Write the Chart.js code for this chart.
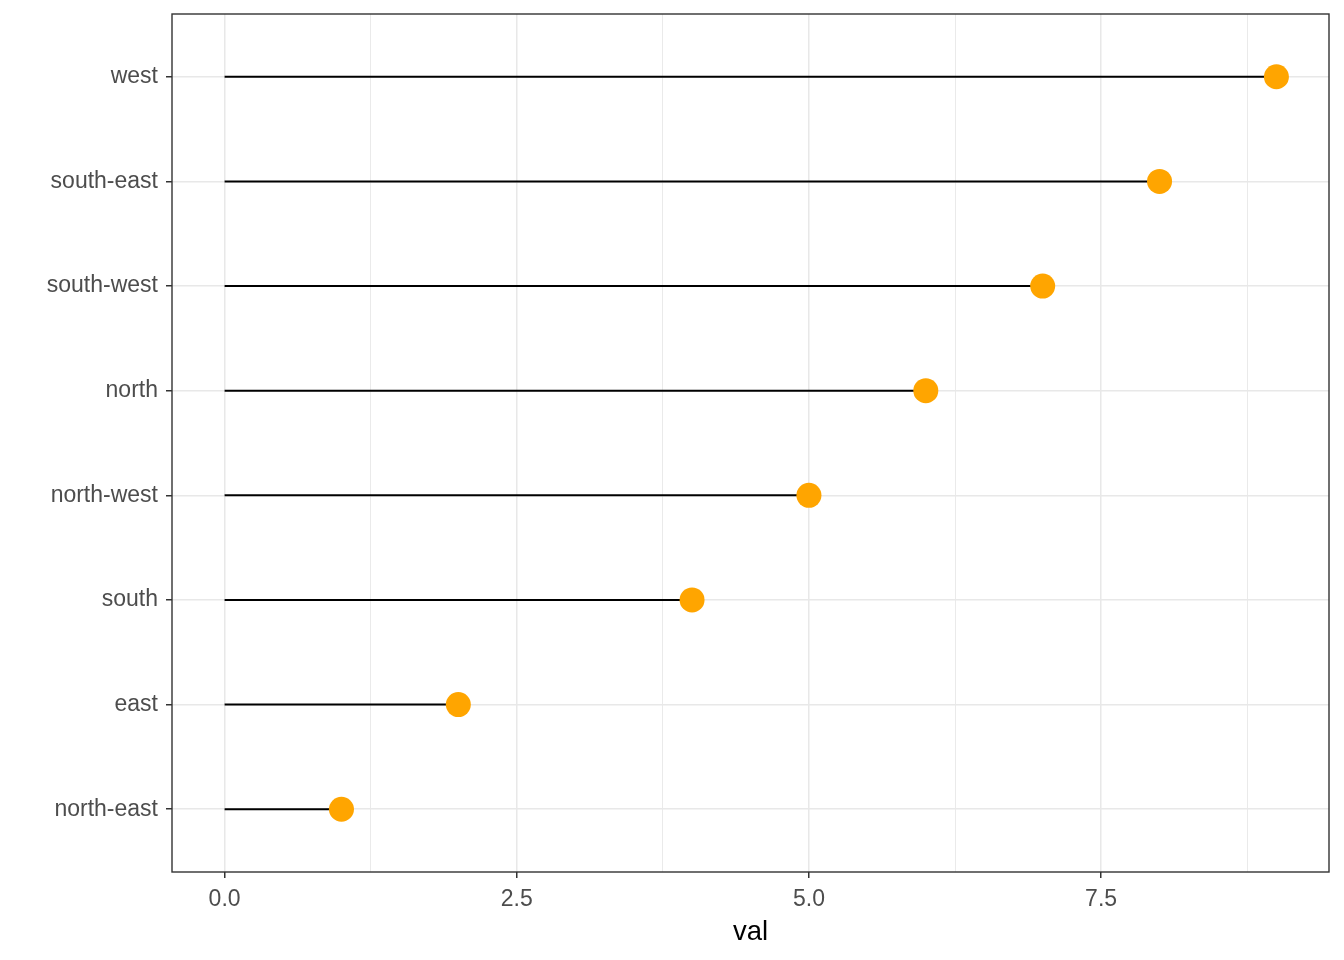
<!DOCTYPE html>
<html>
<head>
<meta charset="utf-8">
<script src="https://cdn.jsdelivr.net/npm/chart.js@4"></script>
<style>
  html, body { margin: 0; padding: 0; background: #fff; }
  #wrap { width: 1344px; height: 960px; position: relative; }
</style>
</head>
<body>
<div id="wrap"><canvas id="chart"></canvas></div>
<script>
// bottom to top, like the y axis
const categories = ['north-east', 'east', 'south', 'north-west', 'north', 'south-west', 'south-east', 'west'];
const values = [1, 2, 4, 5, 6, 7, 8, 9];
const xMajorTicks = [0, 2.5, 5, 7.5];
const xMinorTicks = [1.25, 3.75, 6.25, 8.75];

const isMajor = v => xMajorTicks.indexOf(v) !== -1;

const stems = categories.map((c, i) => ({
    type: 'line',
    data: [{ x: 0, y: i + 1 }, { x: values[i], y: i + 1 }],
    borderColor: '#000',
    borderWidth: 2,
    pointRadius: 0,
    fill: false
}));

const dots = {
    type: 'scatter',
    data: categories.map((c, i) => ({ x: values[i], y: i + 1 })),
    backgroundColor: '#FFA500',
    borderWidth: 0,
    pointRadius: 12.5,
    pointHoverRadius: 12.5
};

const panelBorder = {
    id: 'panelBorder',
    afterDraw(chart) {
        const a = chart.chartArea;
        const ctx = chart.ctx;
        ctx.save();
        ctx.strokeStyle = '#333333';
        ctx.lineWidth = 1.4;
        ctx.strokeRect(a.left, a.top, a.right - a.left, a.bottom - a.top);
        ctx.restore();
    }
};

new Chart(document.getElementById('chart'), {
    data: { datasets: [dots, ...stems] },
    options: {
        responsive: true,
        maintainAspectRatio: false,
        animation: false,
        layout: { padding: { top: 14, right: 15, left: 0, bottom: 0 } },
        plugins: {
            legend: { display: false },
            tooltip: { enabled: false }
        },
        scales: {
            x: {
                type: 'linear',
                min: -0.45,
                max: 9.45,
                afterBuildTicks: s => {
                    s.ticks = xMajorTicks.concat(xMinorTicks).sort((a, b) => a - b).map(v => ({ value: v }));
                },
                afterFit: s => { s.height = 88; s.paddingLeft = 0; s.paddingRight = 0; },
                border: { display: false },
                grid: {
                    color: '#E8E8E8',
                    lineWidth: ctx => isMajor(ctx.tick.value) ? 1.5 : 0.9,
                    tickColor: ctx => isMajor(ctx.tick.value) ? '#333333' : 'rgba(0,0,0,0)',
                    tickLength: 6
                },
                ticks: {
                    autoSkip: false,
                    maxRotation: 0,
                    padding: 8,
                    color: '#4D4D4D',
                    font: { family: 'Liberation Sans', size: 23 },
                    callback: v => isMajor(v) ? v.toFixed(1) : ''
                },
                title: {
                    display: true,
                    text: 'val',
                    color: '#000',
                    font: { family: 'Liberation Sans', size: 27.5 },
                    padding: { top: 0, bottom: 11 }
                }
            },
            y: {
                type: 'linear',
                min: 0.4,
                max: 8.6,
                afterBuildTicks: s => {
                    s.ticks = categories.map((c, i) => ({ value: i + 1 }));
                },
                afterFit: s => { s.width = 172; s.paddingTop = 0; s.paddingBottom = 0; },
                border: { display: false },
                grid: {
                    color: '#E8E8E8',
                    lineWidth: 1.5,
                    tickColor: '#333333',
                    tickLength: 6
                },
                ticks: {
                    autoSkip: false,
                    padding: 8,
                    color: '#4D4D4D',
                    font: { family: 'Liberation Sans', size: 23 },
                    callback: v => categories[v - 1] || ''
                }
            }
        }
    },
    plugins: [panelBorder]
});
</script>
</body>
</html>
